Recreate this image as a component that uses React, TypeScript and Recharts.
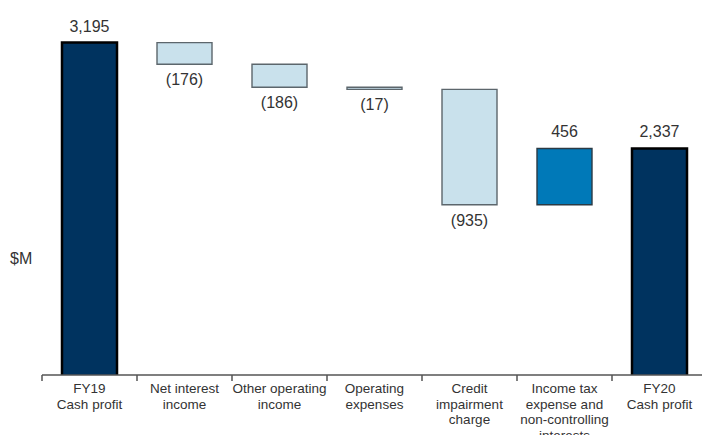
import React from 'react';
import { BarChart, Bar, XAxis, YAxis, Cell, LabelList, Label } from 'recharts';

const categories = [
  'FY19\nCash profit',
  'Net interest\nincome',
  'Other operating\nincome',
  'Operating\nexpenses',
  'Credit\nimpairment\ncharge',
  'Income tax\nexpense and\nnon-controlling\ninterests',
  'FY20\nCash profit',
];
const values = [3195, -176, -186, -17, -935, 456, 2337];
const kinds = ['total', 'change', 'change', 'change', 'change', 'change', 'total'];
const yDomain = [500, 3500];

const fmt = (n: number) => n.toLocaleString('en-US');

let running = 0;
const data = categories.map((name, i) => {
  const v = values[i];
  let range: [number, number];
  if (kinds[i] === 'total') {
    range = [0, v];
    running = v;
  } else {
    const start = running;
    const end = running + v;
    range = [Math.min(start, end), Math.max(start, end)];
    running = end;
  }
  const label = v < 0 ? `(${fmt(-v)})` : fmt(v);
  return { name, range, label, value: v, kind: kinds[i] };
});

const fillFor = (d: any) =>
  d.kind === 'total' ? '#00335f' : d.value < 0 ? '#c9e1ec' : '#0079b8';
const strokeFor = (d: any) =>
  d.kind === 'total' ? '#000000' : d.value < 0 ? '#5c666c' : '#2b3a44';
const strokeWFor = (d: any) => (d.kind === 'total' ? 2.5 : 1.4);

const FONT = '"Liberation Sans", Arial, sans-serif';

const Tick = (props: any) => {
  const { x, y, payload } = props;
  const off = payload && payload.offset != null ? payload.offset : 47.5;
  const lines = String(payload.value).split('\n');
  return (
    <g>
      <line x1={x - off} y1={y} x2={x - off} y2={y + 6} stroke="#555" strokeWidth={1.5} />
      <text
        x={x}
        y={y + 18}
        textAnchor="middle"
        fontFamily={FONT}
        fontSize={13.5}
        fill="#333"
      >
        {lines.map((l, i) => (
          <tspan key={i} x={x} dy={i === 0 ? 0 : 15.5}>
            {l}
          </tspan>
        ))}
      </text>
    </g>
  );
};

const renderLabel = (props: any) => {
  const { x, y, width, height, value } = props;
  const top = Math.min(y, y + height);
  const bottom = Math.max(y, y + height);
  const below = String(value).startsWith('(');
  const ty = below ? bottom + 21 : top - 11;
  return (
    <text
      x={x + width / 2}
      y={ty}
      textAnchor="middle"
      fontFamily={FONT}
      fontSize={16}
      fill="#333"
    >
      {value}
    </text>
  );
};

export default function App() {
  return (
    <div style={{ position: 'absolute', left: 0, top: 0, width: 702, height: 435, overflow: 'hidden', background: '#fff' }}>
      <BarChart
        width={720}
        height={435}
        data={data}
        margin={{ top: 5, right: 13, left: 0, bottom: 0 }}
        barCategoryGap={0}
      >
        <XAxis
          dataKey="name"
          interval={0}
          tickLine={false}
          tickSize={0}
          tickMargin={0}
          height={60}
          axisLine={{ stroke: '#555', strokeWidth: 1.5 }}
          tick={<Tick />}
        />
        <YAxis
          width={42}
          domain={yDomain}
          allowDataOverflow
          axisLine={false}
          tickLine={false}
          tick={false}
        >
          <Label
            value="$M"
            position="insideLeft"
            offset={10}
            dy={68}
            style={{ fontFamily: FONT, fontSize: 16, fill: '#333' }}
          />
        </YAxis>
        <Bar dataKey="range" barSize={55} isAnimationActive={false}>
          {data.map((d, i) => (
            <Cell key={i} fill={fillFor(d)} stroke={strokeFor(d)} strokeWidth={strokeWFor(d)} />
          ))}
          <LabelList dataKey="label" content={renderLabel} />
        </Bar>
      </BarChart>
    </div>
  );
}
